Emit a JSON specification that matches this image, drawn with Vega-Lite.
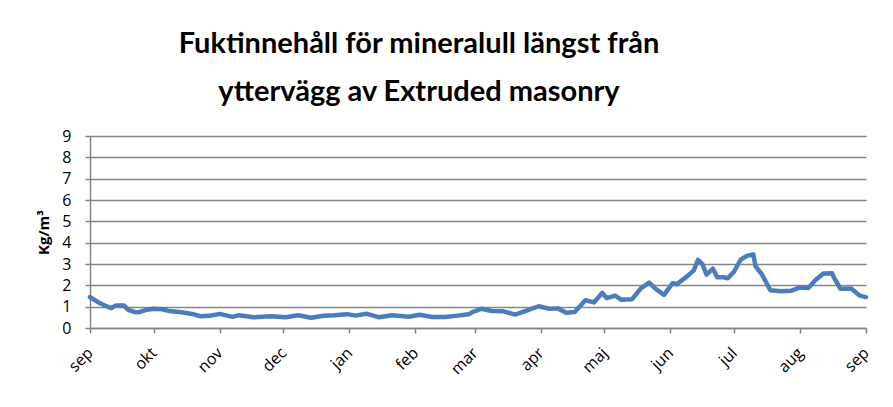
{
  "$schema": "https://vega.github.io/schema/vega-lite/v6.json",
  "width": 776,
  "height": 192,
  "autosize": {"type": "none"},
  "padding": {"left": 90, "top": 136, "right": 27, "bottom": 79},
  "background": "white",
  "title": {
    "text": ["Fuktinnehåll för mineralull längst från", "yttervägg av Extruded masonry"],
    "font": "Lato",
    "fontSize": 29,
    "fontWeight": "bold",
    "color": "#000000",
    "lineHeight": 48,
    "anchor": "middle",
    "dx": -59,
    "offset": 21
  },
  "config": {
    "view": {"stroke": null},
    "font": "Open Sans"
  },
  "data": {
    "values": [
      {"date": "2009-09-01", "v": 1.45},
      {"date": "2009-09-05", "v": 1.2},
      {"date": "2009-09-08", "v": 1.05},
      {"date": "2009-09-11", "v": 0.93},
      {"date": "2009-09-13", "v": 1.05},
      {"date": "2009-09-17", "v": 1.05},
      {"date": "2009-09-19", "v": 0.85},
      {"date": "2009-09-22", "v": 0.75},
      {"date": "2009-09-24", "v": 0.74},
      {"date": "2009-09-28", "v": 0.86},
      {"date": "2009-10-01", "v": 0.9},
      {"date": "2009-10-05", "v": 0.88},
      {"date": "2009-10-08", "v": 0.8},
      {"date": "2009-10-14", "v": 0.74},
      {"date": "2009-10-19", "v": 0.66},
      {"date": "2009-10-23", "v": 0.55},
      {"date": "2009-10-27", "v": 0.57},
      {"date": "2009-11-01", "v": 0.66},
      {"date": "2009-11-07", "v": 0.52},
      {"date": "2009-11-10", "v": 0.6},
      {"date": "2009-11-17", "v": 0.5},
      {"date": "2009-11-25", "v": 0.55},
      {"date": "2009-12-02", "v": 0.5},
      {"date": "2009-12-08", "v": 0.6},
      {"date": "2009-12-14", "v": 0.48},
      {"date": "2009-12-20", "v": 0.57},
      {"date": "2009-12-25", "v": 0.6},
      {"date": "2009-12-31", "v": 0.65},
      {"date": "2010-01-04", "v": 0.58},
      {"date": "2010-01-09", "v": 0.67},
      {"date": "2010-01-15", "v": 0.5},
      {"date": "2010-01-21", "v": 0.6},
      {"date": "2010-01-29", "v": 0.53},
      {"date": "2010-02-03", "v": 0.62},
      {"date": "2010-02-09", "v": 0.52},
      {"date": "2010-02-15", "v": 0.52},
      {"date": "2010-02-21", "v": 0.58},
      {"date": "2010-02-26", "v": 0.64},
      {"date": "2010-02-28", "v": 0.75},
      {"date": "2010-03-04", "v": 0.9},
      {"date": "2010-03-09", "v": 0.8},
      {"date": "2010-03-14", "v": 0.79},
      {"date": "2010-03-20", "v": 0.63},
      {"date": "2010-03-25", "v": 0.8},
      {"date": "2010-03-31", "v": 1.02},
      {"date": "2010-04-05", "v": 0.9},
      {"date": "2010-04-09", "v": 0.92},
      {"date": "2010-04-13", "v": 0.72},
      {"date": "2010-04-17", "v": 0.75},
      {"date": "2010-04-22", "v": 1.3},
      {"date": "2010-04-26", "v": 1.2},
      {"date": "2010-04-30", "v": 1.65},
      {"date": "2010-05-02", "v": 1.4},
      {"date": "2010-05-06", "v": 1.52},
      {"date": "2010-05-09", "v": 1.32},
      {"date": "2010-05-14", "v": 1.35},
      {"date": "2010-05-18", "v": 1.85},
      {"date": "2010-05-22", "v": 2.13},
      {"date": "2010-05-25", "v": 1.84},
      {"date": "2010-05-29", "v": 1.55},
      {"date": "2010-06-02", "v": 2.1},
      {"date": "2010-06-04", "v": 2.05},
      {"date": "2010-06-09", "v": 2.43},
      {"date": "2010-06-12", "v": 2.7},
      {"date": "2010-06-14", "v": 3.2},
      {"date": "2010-06-16", "v": 3.0},
      {"date": "2010-06-18", "v": 2.5},
      {"date": "2010-06-21", "v": 2.78},
      {"date": "2010-06-23", "v": 2.38},
      {"date": "2010-06-26", "v": 2.38},
      {"date": "2010-06-28", "v": 2.33},
      {"date": "2010-07-01", "v": 2.65},
      {"date": "2010-07-04", "v": 3.2},
      {"date": "2010-07-07", "v": 3.38},
      {"date": "2010-07-10", "v": 3.45},
      {"date": "2010-07-11", "v": 2.9},
      {"date": "2010-07-14", "v": 2.52},
      {"date": "2010-07-18", "v": 1.77},
      {"date": "2010-07-23", "v": 1.72},
      {"date": "2010-07-28", "v": 1.75},
      {"date": "2010-08-01", "v": 1.9},
      {"date": "2010-08-05", "v": 1.88},
      {"date": "2010-08-08", "v": 2.23},
      {"date": "2010-08-12", "v": 2.55},
      {"date": "2010-08-16", "v": 2.57},
      {"date": "2010-08-17", "v": 2.35},
      {"date": "2010-08-20", "v": 1.84},
      {"date": "2010-08-25", "v": 1.85},
      {"date": "2010-08-29", "v": 1.52},
      {"date": "2010-09-01", "v": 1.45}
    ]
  },
  "mark": {"type": "line", "color": "#4a7ebb", "strokeWidth": 4.5, "strokeJoin": "round", "strokeCap": "round"},
  "encoding": {
    "x": {
      "field": "date",
      "type": "temporal",
      "scale": {
        "type": "utc",
        "domain": [
          {"year": 2009, "month": 9, "date": 1, "utc": true},
          {"year": 2010, "month": 9, "date": 1, "utc": true}
        ]
      },
      "axis": {
        "title": null,
        "values": [
          {"year": 2009, "month": 9, "date": 1, "utc": true},
          {"year": 2009, "month": 10, "date": 1, "utc": true},
          {"year": 2009, "month": 11, "date": 1, "utc": true},
          {"year": 2009, "month": 12, "date": 1, "utc": true},
          {"year": 2010, "month": 1, "date": 1, "utc": true},
          {"year": 2010, "month": 2, "date": 1, "utc": true},
          {"year": 2010, "month": 3, "date": 1, "utc": true},
          {"year": 2010, "month": 4, "date": 1, "utc": true},
          {"year": 2010, "month": 5, "date": 1, "utc": true},
          {"year": 2010, "month": 6, "date": 1, "utc": true},
          {"year": 2010, "month": 7, "date": 1, "utc": true},
          {"year": 2010, "month": 8, "date": 1, "utc": true},
          {"year": 2010, "month": 9, "date": 1, "utc": true}
        ],
        "labelExpr": "['jan','feb','mar','apr','maj','jun','jul','aug','sep','okt','nov','dec'][utcmonth(datum.value)]",
        "labelAngle": -45,
        "labelAlign": "right",
        "labelBaseline": "middle",
        "labelPadding": 17,
        "labelFont": "Open Sans",
        "labelFontSize": 16,
        "labelColor": "#000000",
        "labelFlush": false,
        "labelOverlap": false,
        "grid": false,
        "domainColor": "#868686",
        "domainWidth": 1.5,
        "tickColor": "#868686",
        "tickWidth": 1.5,
        "tickSize": 5
      }
    },
    "y": {
      "field": "v",
      "type": "quantitative",
      "scale": {"domain": [0, 9], "nice": false},
      "axis": {
        "title": "Kg/m³",
        "titleFont": "Open Sans",
        "titleFontSize": 15,
        "titleFontWeight": "bold",
        "titleColor": "#000000",
        "titlePadding": 10,
        "values": [0, 1, 2, 3, 4, 5, 6, 7, 8, 9],
        "labelFont": "Open Sans",
        "labelFontSize": 16,
        "labelColor": "#000000",
        "labelPadding": 14,
        "labelFlush": false,
        "grid": true,
        "gridColor": "#868686",
        "gridWidth": 1.5,
        "domainColor": "#868686",
        "domainWidth": 1.5,
        "tickColor": "#868686",
        "tickWidth": 1.5,
        "tickSize": 5
      }
    }
  }
}
